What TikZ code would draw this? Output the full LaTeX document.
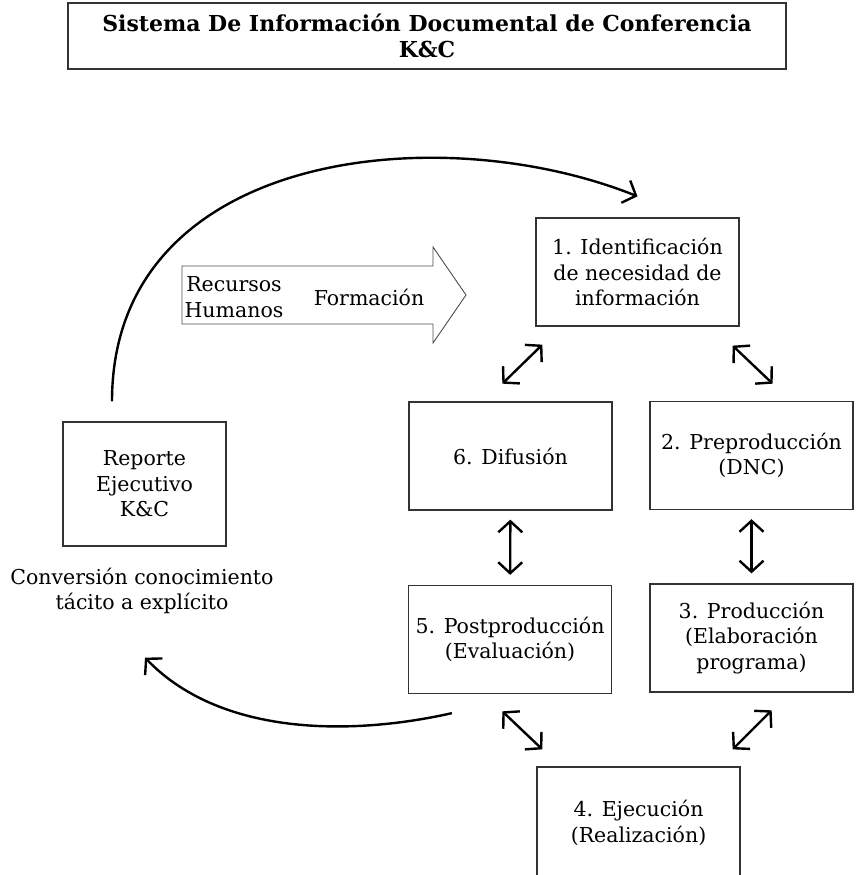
\documentclass[tikz,border=0pt]{standalone}
\usepackage{fontspec}
\setmainfont{DejaVu Serif}
\usetikzlibrary{arrows.meta}

\begin{document}
\begin{tikzpicture}[x=1pt, y=-1pt, thick,
    font=\fontsize{20.5}{25.5}\selectfont,
    caja/.style={draw=black!80, line width=1.3pt, align=center, inner sep=0pt,
        minimum width=203pt, minimum height=108pt},
    texto/.style={align=center, inner sep=0pt},
    punta/.tip={Straight Barb[length=11pt,width=24pt]},
    flecha/.style={line width=2.4pt, punta-punta},
    curva/.style={line width=2.4pt, -punta}]
    \useasboundingbox (0,0) rectangle (855,875);

    % titulo
    \node[caja, minimum width=718pt, minimum height=66pt,
        font=\fontsize{22}{26}\selectfont\bfseries] (titulo) at (427,36)
        {Sistema De Información Documental de Conferencia\\K\&C};

    % ciclo
    \node[caja] (ident) at (637.5,272) {1. Identificación\\de necesidad de\\información};
    \node[caja] (preprod) at (751.5,455.5) {2. Preproducción\\(DNC)};
    \node[caja] (produc) at (751.5,638) {3. Producción\\(Elaboración\\programa)};
    \node[caja, minimum height=112pt] (ejec) at (638.5,823) {4. Ejecución\\(Realización)};
    \node[caja] (postprod) at (510,639.5) {5. Postproducción\\(Evaluación)};
    \node[caja] (difusion) at (510.5,456) {6. Difusión};

    \node[caja, minimum width=163pt, minimum height=124pt] (reporte) at (144.5,484)
        {Reporte\\Ejecutivo\\K\&C};
    \node[texto] (conversion) at (142,591) {Conversión conocimiento\\tácito a explícito};

    % flecha de formacion
    \draw[black!70, line width=0.9pt] (182,266) -- (433,266) -- (433,247) -- (466,295)
        -- (433,343) -- (433,324) -- (182,324) -- cycle;
    \node[texto] (recursos) at (234,297) {Recursos\\Humanos};
    \node[texto] (formacion) at (369,297) {Formación};

    \draw[flecha] ([shift={(-33,57)}]ident.south west) -- ([shift={(7,18)}]ident.south west);
    \draw[flecha] ([shift={(-7,19)}]ident.south east) -- ([shift={(33,57)}]ident.south east);
    \draw[flecha, shorten <=9pt, shorten >=10pt] (difusion) -- (postprod);
    \draw[flecha, shorten <=9pt, shorten >=10pt] (preprod) -- (produc);
    \draw[flecha] ([shift={(-34,-55)}]ejec.north west) -- ([shift={(6,-17)}]ejec.north west);
    \draw[flecha] ([shift={(-8,-17)}]ejec.north east) -- ([shift={(31,-56)}]ejec.north east);

    \draw[curva] ([shift={(-32.5,-20)}]reporte.north) .. controls +(0,-250) and +(-200,-80)
        .. ([shift={(0,-21)}]ident.north);
    \draw[curva] ([shift={(44,19)}]postprod.south west) .. controls +(-102,23) and +(75,78)
        .. ([shift={(0.5,111)}]reporte.south);
\end{tikzpicture}
\end{document}
